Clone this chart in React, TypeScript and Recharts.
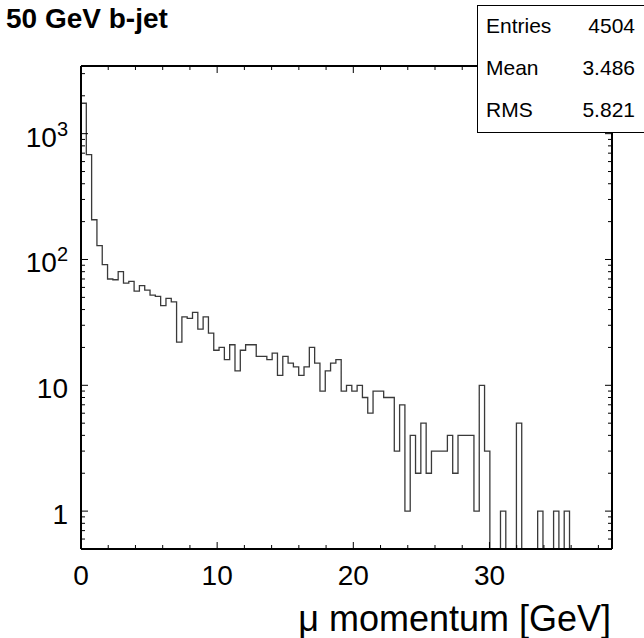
import { LineChart, Line, XAxis, YAxis } from "recharts";

// histogram: 100 bins from 0 to 39 GeV
const N_BINS = 100;
const X_MIN = 0;
const X_MAX = 39;
const Y_MIN = 0.5;
const Y_MAX = 3450;

const binCounts = [
  1745, 682, 207, 129, 91, 70, 69, 80, 65, 67,
  56, 62, 57, 52, 51, 43, 49, 46, 22, 35,
  34, 38, 28, 35, 26, 19, 20, 16, 21, 13,
  19, 21, 21, 17, 17, 16, 18, 12, 17, 15,
  14, 12, 14, 20, 15, 9, 13, 15, 16, 9,
  10, 9, 10, 8, 6, 9, 9, 8, 8, 3,
  7, 1, 4, 2, 5, 2, 3, 3, 3, 4,
  2, 4, 4, 4, 1, 10, 3, 0, 0, 1,
  0, 0, 5, 0, 0, 0, 1, 0, 0, 1,
  0, 1, 0, 0, 0, 0, 0, 0, 0, 0,
];

const xTicks = [0, 2, 4, 6, 8, 10, 12, 14, 16, 18, 20, 22, 24, 26, 28, 30, 32, 34, 36, 38];
const xMajor = [0, 10, 20, 30];

const yTicks = [
  0.6, 0.7, 0.8, 0.9,
  1, 2, 3, 4, 5, 6, 7, 8, 9,
  10, 20, 30, 40, 50, 60, 70, 80, 90,
  100, 200, 300, 400, 500, 600, 700, 800, 900,
  1000, 2000, 3000,
];
const yMajor = [1, 10, 100, 1000];
const yLabelBase = ["1", "10", "10", "10"];
const yLabelExp = ["", "", "2", "3"];

const statNames = ["Entries", "Mean", "RMS"];
const statValues = ["4504", "3.486", "5.821"];

const binWidth = (X_MAX - X_MIN) / N_BINS;
const histData = [
  { x: X_MIN, y: Y_MIN },
  ...binCounts.map((c, i) => ({ x: X_MIN + i * binWidth, y: c > 0 ? c : Y_MIN })),
  { x: X_MAX, y: Y_MIN },
];

const FONT = "'Liberation Sans', Arial, Helvetica, sans-serif";

function BottomTick(props: any) {
  const { x, y, payload } = props;
  const major = xMajor.includes(payload.value);
  return (
    <g>
      <line x1={x} y1={y} x2={x} y2={y - (major ? 7 : 4)} stroke="#000" />
      {major && (
        <text x={x} y={y + 36} textAnchor="middle" fontSize={28} fontFamily={FONT} fill="#000">
          {payload.value}
        </text>
      )}
    </g>
  );
}

function TopTick(props: any) {
  const { x, y, payload } = props;
  const major = xMajor.includes(payload.value);
  return <line x1={x} y1={y} x2={x} y2={y + (major ? 7 : 4)} stroke="#000" />;
}

function LeftTick(props: any) {
  const { x, y, payload } = props;
  const idx = yMajor.indexOf(payload.value);
  const major = idx >= 0;
  return (
    <g>
      <line x1={x} y1={y} x2={x + (major ? 7 : 4)} y2={y} stroke="#000" />
      {major && (
        <text x={x - 13} y={y + 13} textAnchor="end" fontSize={28} fontFamily={FONT} fill="#000">
          {yLabelBase[idx]}
          {yLabelExp[idx] && (
            <tspan dy={-11} fontSize={20}>
              {yLabelExp[idx]}
            </tspan>
          )}
        </text>
      )}
    </g>
  );
}

function RightTick(props: any) {
  const { x, y, payload } = props;
  const major = yMajor.includes(payload.value);
  return <line x1={x} y1={y} x2={x - (major ? 7 : 4)} y2={y} stroke="#000" />;
}

export default function App() {
  return (
    <div style={{ position: "absolute", left: 0, top: 0, width: 644, height: 638, background: "#fff" }}>
      <LineChart
        width={644}
        height={638}
        data={histData}
        margin={{ top: 0, right: 0, bottom: 0, left: 0 }}
      >
        <XAxis
          xAxisId="bottom"
          dataKey="x"
          type="number"
          domain={[X_MIN, X_MAX]}
          allowDataOverflow
          ticks={xTicks}
          interval={0}
          height={89}
          tickSize={0}
          tickMargin={0}
          tickLine={false}
          axisLine={{ stroke: "#000", strokeWidth: 2 }}
          tick={BottomTick}
        />
        <XAxis
          xAxisId="top"
          orientation="top"
          dataKey="x"
          type="number"
          domain={[X_MIN, X_MAX]}
          allowDataOverflow
          ticks={xTicks}
          interval={0}
          height={66}
          tickSize={0}
          tickMargin={0}
          tickLine={false}
          axisLine={{ stroke: "#000", strokeWidth: 2 }}
          tick={TopTick}
        />
        <YAxis
          yAxisId="left"
          scale="log"
          type="number"
          domain={[Y_MIN, Y_MAX]}
          allowDataOverflow
          ticks={yTicks}
          interval={0}
          width={81}
          tickSize={0}
          tickMargin={0}
          tickLine={false}
          axisLine={{ stroke: "#000", strokeWidth: 2 }}
          tick={LeftTick}
        />
        <YAxis
          yAxisId="right"
          orientation="right"
          scale="log"
          type="number"
          domain={[Y_MIN, Y_MAX]}
          allowDataOverflow
          ticks={yTicks}
          interval={0}
          width={32}
          tickSize={0}
          tickMargin={0}
          tickLine={false}
          axisLine={{ stroke: "#000", strokeWidth: 2 }}
          tick={RightTick}
        />
        <Line
          xAxisId="bottom"
          yAxisId="left"
          dataKey="y"
          type="stepAfter"
          stroke="#3a3a3a"
          strokeWidth={1.3}
          dot={false}
          activeDot={false}
          isAnimationActive={false}
        />
      </LineChart>
      <svg
        width={644}
        height={638}
        style={{ position: "absolute", left: 0, top: 0, pointerEvents: "none" }}
      >
        <text x={6} y={28} fontSize={28} fontWeight="bold" fontFamily={FONT} fill="#000">
          50 GeV b-jet
        </text>
        <rect x={477.5} y={5.5} width={180} height={127} fill="#fff" stroke="#000" strokeWidth={1} />
        {statNames.map((name, i) => (
          <g key={name}>
            <text x={486} y={33 + i * 42} fontSize={21} fontFamily={FONT} fill="#000">
              {name}
            </text>
            <text x={635} y={33 + i * 42} fontSize={21} textAnchor="end" fontFamily={FONT} fill="#000">
              {statValues[i]}
            </text>
          </g>
        ))}
        <text x={611} y={631} fontSize={36} textAnchor="end" fontFamily={FONT} fill="#000">
          μ momentum [GeV]
        </text>
      </svg>
    </div>
  );
}
